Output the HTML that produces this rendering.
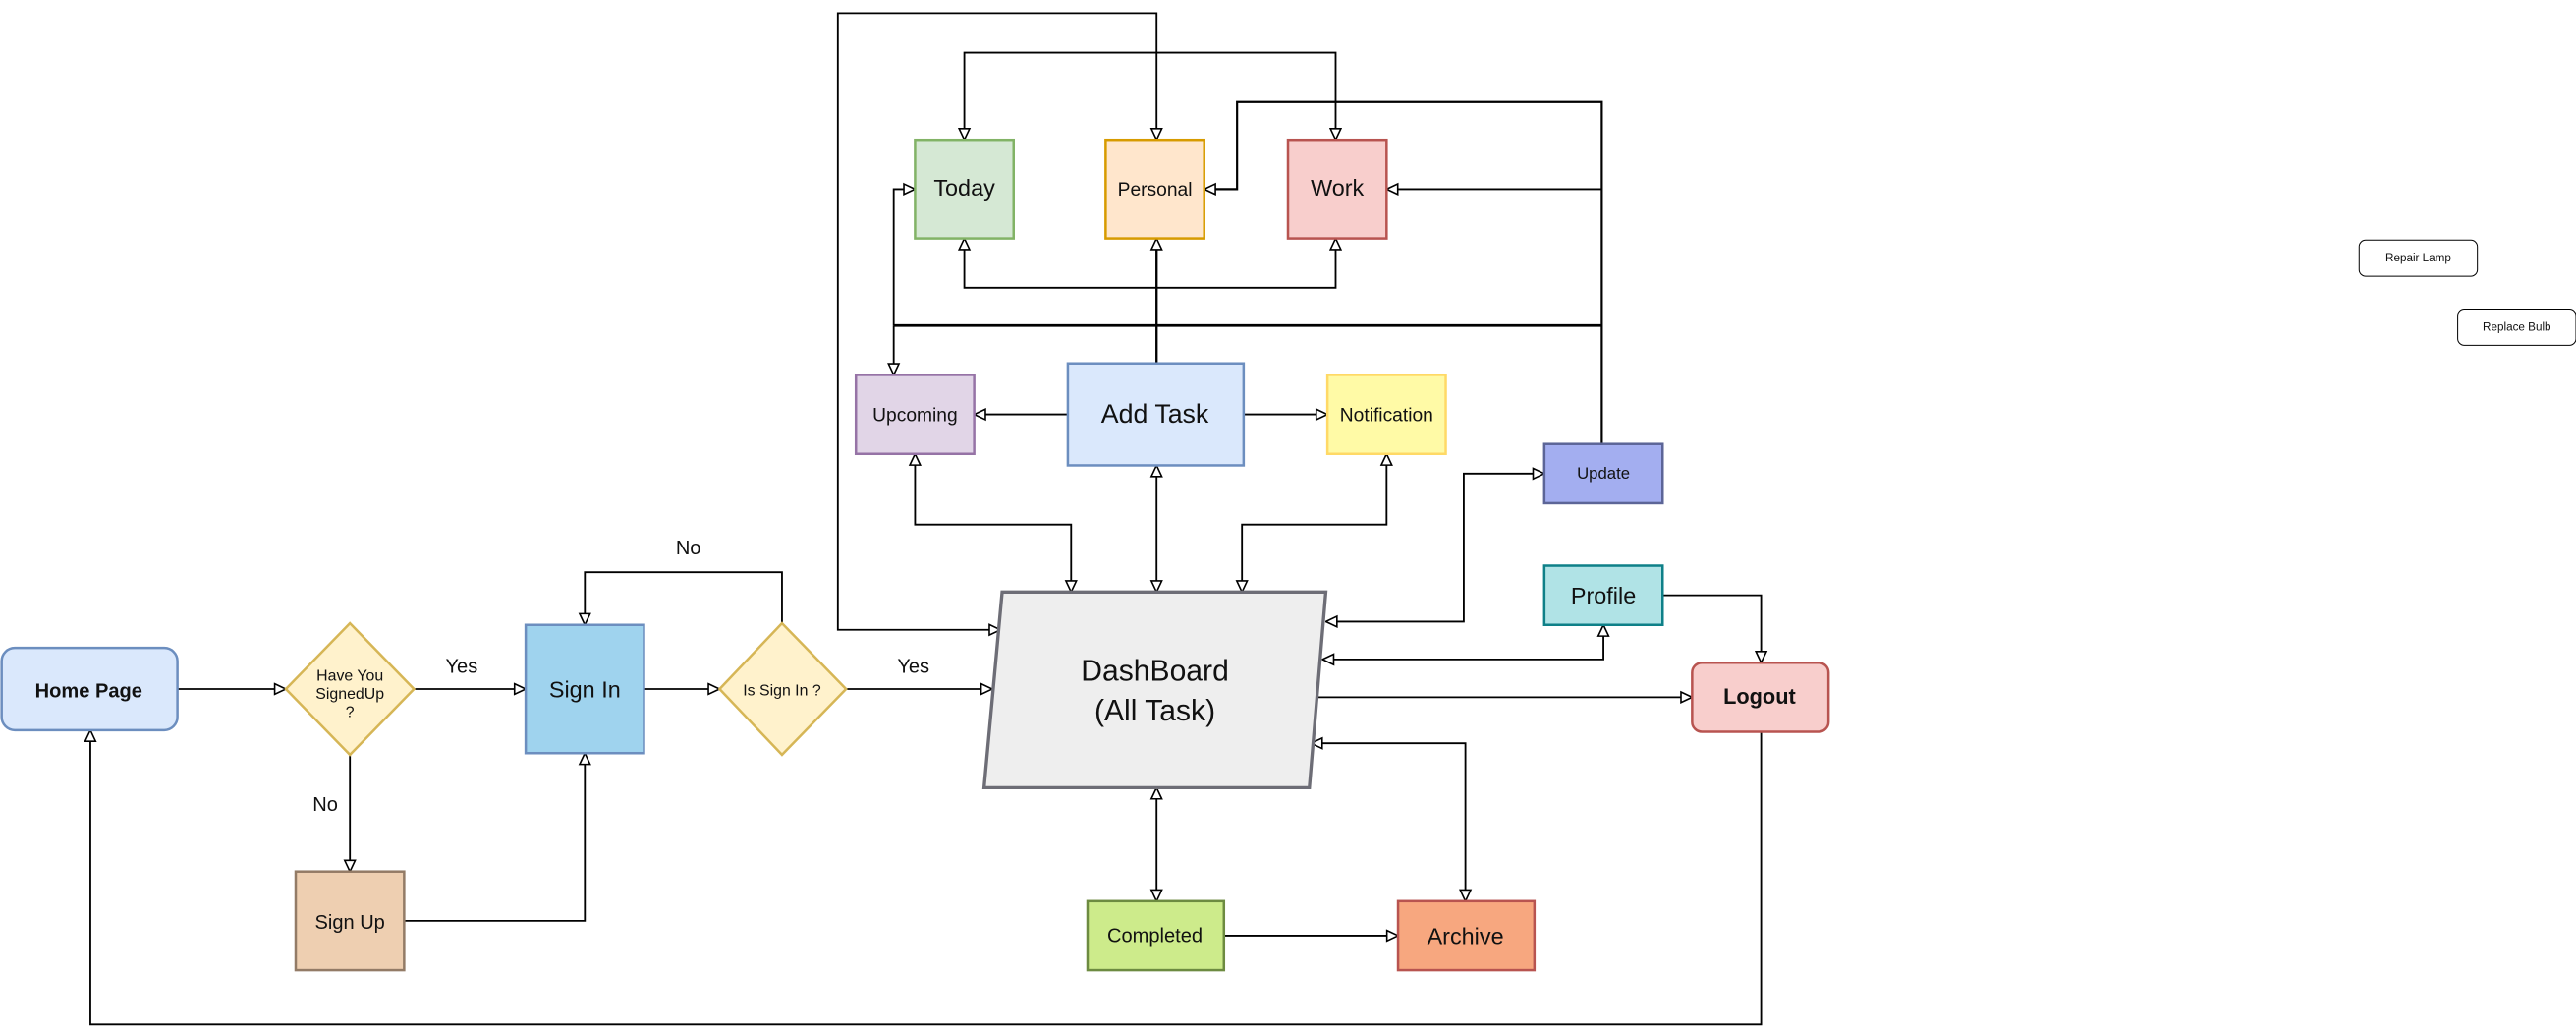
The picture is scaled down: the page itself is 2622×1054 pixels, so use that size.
<!DOCTYPE html>
<html><head><meta charset="utf-8"><style>html,body{margin:0;padding:0;background:#fff;}svg{display:block}text{font-family:"Liberation Sans",sans-serif;fill:#111;}</style></head>
<body>
<svg width="2622" height="1054" viewBox="0 0 1568 630" preserveAspectRatio="none" xmlns="http://www.w3.org/2000/svg">
<defs>
<marker id="a" viewBox="0 0 10 10" refX="9.5" refY="5" markerWidth="8" markerHeight="8" markerUnits="userSpaceOnUse" orient="auto">
<path d="M1,1 L9.5,5 L1,9 Z" fill="#fff" stroke="#000" stroke-width="1.2"/>
</marker>
<marker id="s" viewBox="0 0 10 10" refX="9.5" refY="5" markerWidth="8" markerHeight="8" markerUnits="userSpaceOnUse" orient="auto-start-reverse">
<path d="M1,1 L9.5,5 L1,9 Z" fill="#fff" stroke="#000" stroke-width="1.2"/>
</marker>
</defs>
<g fill="none" stroke="#000" stroke-width="1.1">
<path d="M108,419 H174" marker-end="url(#a)"/>
<path d="M252,419 H320" marker-end="url(#a)"/>
<path d="M213,459 V530" marker-end="url(#a)"/>
<path d="M246,560 H356 V458" marker-end="url(#a)"/>
<path d="M392,419 H438" marker-end="url(#a)"/>
<path d="M476,379 V348 H356 V380" marker-end="url(#a)"/>
<path d="M515,419 H604" marker-end="url(#a)"/>
<path d="M609,383 H510 V8 H704 V85" marker-start="url(#s)" marker-end="url(#a)"/>
<path d="M587,85 V32 H813 V85" marker-start="url(#s)" marker-end="url(#a)"/>
<path d="M587,145 V175 H813 V145" marker-start="url(#s)" marker-end="url(#a)"/>
<path d="M704,221 V145" marker-end="url(#a)" stroke-width="1.4"/>
<path d="M544,198 H975" stroke-width="1.6"/>
<path d="M544,198 V228" marker-end="url(#a)"/>
<path d="M544,198 V115 H557" marker-end="url(#a)"/>
<path d="M975,270 V62 H753 V115 H733" marker-end="url(#a)" stroke-width="1.3"/>
<path d="M975,115 H844" marker-end="url(#a)"/>
<path d="M650,252 H593" marker-end="url(#a)"/>
<path d="M757,252 H808" marker-end="url(#a)"/>
<path d="M557,276 V319 H652 V360" marker-start="url(#s)" marker-end="url(#a)"/>
<path d="M704,283 V360" marker-start="url(#s)" marker-end="url(#a)"/>
<path d="M844,276 V319 H756 V360" marker-start="url(#s)" marker-end="url(#a)"/>
<path d="M807,378 H891 V288 H940" marker-start="url(#s)" marker-end="url(#a)"/>
<path d="M805,401 H976 V380" marker-start="url(#s)" marker-end="url(#a)"/>
<path d="M1012,362 H1072 V403" marker-end="url(#a)"/>
<path d="M801,424 H1030" marker-end="url(#a)"/>
<path d="M798,452 H892 V548" marker-start="url(#s)" marker-end="url(#a)"/>
<path d="M704,479 V548" marker-start="url(#s)" marker-end="url(#a)"/>
<path d="M745,569 H851" marker-end="url(#a)"/>
<path d="M1072,445 V623 H55 V444" marker-end="url(#a)"/>
</g>
<g stroke-width="1.5">
<rect x="1" y="394" width="107" height="50" rx="8" fill="#dae8fc" stroke="#6c8ebf"/>
<polygon points="213,379 252,419 213,459 174,419" fill="#fff2cc" stroke="#d6b656"/>
<rect x="320" y="380" width="72" height="78" fill="#9fd3ee" stroke="#6c8ebf"/>
<polygon points="476,379 515,419 476,459 438,419" fill="#fff2cc" stroke="#d6b656"/>
<rect x="180" y="530" width="66" height="60" fill="#eecfb1" stroke="#937b66"/>
<polygon points="610,360 807,360 797,479 599,479" fill="#eeeeee" stroke="#6d6d76" stroke-width="2"/>
<rect x="557" y="85" width="60" height="60" fill="#d5e8d4" stroke="#82b366"/>
<rect x="673" y="85" width="60" height="60" fill="#ffe6cc" stroke="#d79b00"/>
<rect x="784" y="85" width="60" height="60" fill="#f8cecc" stroke="#b85450"/>
<rect x="521" y="228" width="72" height="48" fill="#e1d5e7" stroke="#9673a6"/>
<rect x="650" y="221" width="107" height="62" fill="#dae8fc" stroke="#6c8ebf"/>
<rect x="808" y="228" width="72" height="48" fill="#fffaa6" stroke="#ffd966"/>
<rect x="940" y="270" width="72" height="36" fill="#a3aef0" stroke="#5c6597"/>
<rect x="940" y="344" width="72" height="36" fill="#b0e3e6" stroke="#0e8088"/>
<rect x="1030" y="403" width="83" height="42" rx="6" fill="#f8cecc" stroke="#b85450"/>
<rect x="662" y="548" width="83" height="42" fill="#cdeb8b" stroke="#6d8b41"/>
<rect x="851" y="548" width="83" height="42" fill="#f7a77f" stroke="#b85450"/>
<rect x="1436" y="146" width="72" height="22" rx="4" fill="#fff" stroke="#000" stroke-width="0.6"/>
<rect x="1496" y="188" width="72" height="22" rx="4" fill="#fff" stroke="#000" stroke-width="0.6"/>
</g>
<g text-anchor="middle">
<text x="54" y="424" font-size="12" font-weight="bold">Home Page</text>
<text x="213" y="414" font-size="9.5">Have You</text>
<text x="213" y="425" font-size="9.5">SignedUp</text>
<text x="213" y="436" font-size="9.5">?</text>
<text x="356" y="424" font-size="14">Sign In</text>
<text x="476" y="423" font-size="9.5">Is Sign In ?</text>
<text x="213" y="565" font-size="12">Sign Up</text>
<text x="703" y="414" font-size="18">DashBoard</text>
<text x="703" y="438" font-size="18">(All Task)</text>
<text x="587" y="119" font-size="14">Today</text>
<text x="703" y="119" font-size="11.5">Personal</text>
<text x="814" y="119" font-size="14">Work</text>
<text x="557" y="256" font-size="11.5">Upcoming</text>
<text x="703" y="257" font-size="16">Add Task</text>
<text x="844" y="256" font-size="11.5">Notification</text>
<text x="976" y="291" font-size="10">Update</text>
<text x="976" y="367" font-size="14">Profile</text>
<text x="1071" y="428" font-size="13" font-weight="bold">Logout</text>
<text x="703" y="573" font-size="12">Completed</text>
<text x="892" y="574" font-size="14">Archive</text>
<text x="281" y="409" font-size="12">Yes</text>
<text x="198" y="493" font-size="12">No</text>
<text x="419" y="337" font-size="12">No</text>
<text x="556" y="409" font-size="12">Yes</text>
<text x="1472" y="159" font-size="7">Repair Lamp</text>
<text x="1532" y="201" font-size="7">Replace Bulb</text>
</g>
</svg>
</body></html>
